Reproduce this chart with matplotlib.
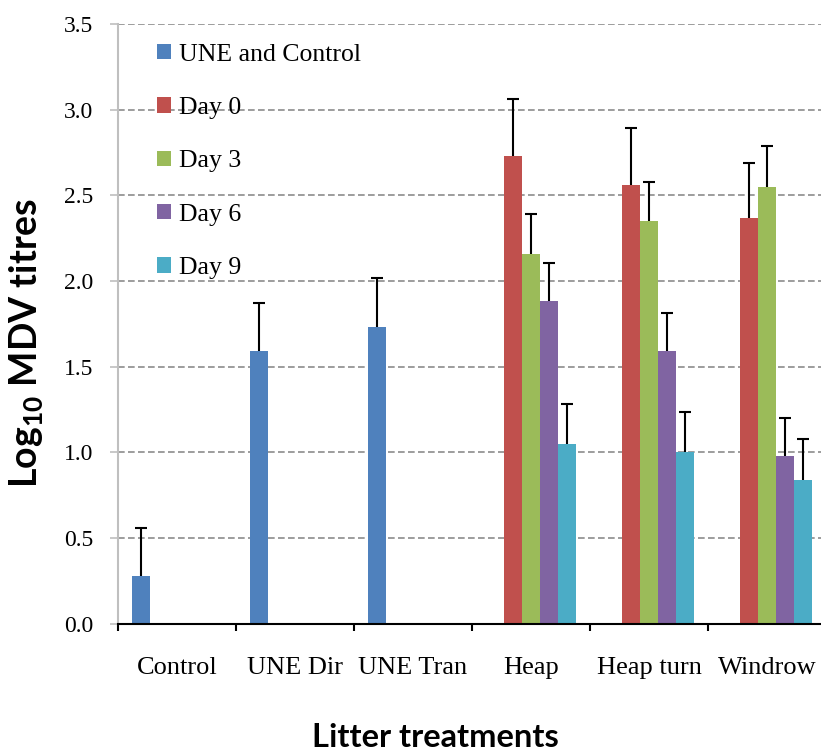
import numpy as np
import matplotlib.pyplot as plt

nan = np.nan

categories = ['Control', 'UNE Dir', 'UNE Tran', 'Heap', 'Heap turn', 'Windrow']
series_names = ['UNE and Control', 'Day 0', 'Day 3', 'Day 6', 'Day 9']
colors = ['#4F81BD', '#C0504D', '#9BBB59', '#8064A2', '#4BACC6']

une_control = [0.28, 1.59, 1.73, nan, nan, nan]
une_control_err = [0.28, 0.28, 0.29, nan, nan, nan]
day0 = [nan, nan, nan, 2.73, 2.56, 2.37]
day0_err = [nan, nan, nan, 0.33, 0.33, 0.32]
day3 = [nan, nan, nan, 2.16, 2.35, 2.55]
day3_err = [nan, nan, nan, 0.23, 0.225, 0.235]
day6 = [nan, nan, nan, 1.88, 1.59, 0.98]
day6_err = [nan, nan, nan, 0.225, 0.225, 0.22]
day9 = [nan, nan, nan, 1.05, 1.00, 0.84]
day9_err = [nan, nan, nan, 0.23, 0.235, 0.235]

values = [une_control, day0, day3, day6, day9]
errors = [une_control_err, day0_err, day3_err, day6_err, day9_err]

plt.rcParams['mathtext.fontset'] = 'custom'
plt.rcParams['mathtext.rm'] = 'Lato'
plt.rcParams['mathtext.bf'] = 'Lato:bold'

fig = plt.figure(figsize=(8.21, 7.55), dpi=100)
ax = fig.add_axes([118 / 821, (755 - 623.5) / 755, 703 / 821, 599.5 / 755])

x = np.arange(len(categories))
w = 1 / 6.5
for i, (vals, errs) in enumerate(zip(values, errors)):
    pos = x + (i - 2) * w
    vals = np.array(vals)
    errs = np.array(errs)
    ax.bar(pos, vals, width=w, color=colors[i], label=series_names[i], zorder=3)
    eb = ax.errorbar(pos, vals, yerr=[np.zeros_like(errs), errs], fmt='none',
                     ecolor='black', elinewidth=1.5, capsize=4, capthick=1.5, zorder=4)
    # only keep the upper cap
    eb[1][0].set_visible(False)

ax.set_xlim(-0.5, 5.5 - 5 / 118)
ax.set_ylim(0, 3.5)
ax.set_yticks(np.arange(0, 3.51, 0.5))
ax.set_yticklabels([f'{v:.1f}' for v in np.arange(0, 3.51, 0.5)],
                   family='Liberation Serif', fontsize=17)
ax.set_xticks(x)
ax.set_xticklabels(categories, family='Liberation Serif', fontsize=19)
ax.set_xticks(np.arange(-0.5, 5.5, 1), minor=True)
ax.tick_params(axis='x', which='major', length=0, pad=24)
ax.tick_params(axis='x', which='minor', length=5, width=1.5, color='black')
ax.tick_params(axis='y', length=6, width=1.2, color='#BFBFBF', pad=12)

for yv in np.arange(0.5, 3.51, 0.5):
    ax.axhline(yv, color='#8C8C8C', lw=1.2, dashes=(4, 2), zorder=1)

ax.spines['top'].set_visible(False)
ax.spines['right'].set_visible(False)
ax.spines['left'].set_color('#BFBFBF')
ax.spines['left'].set_linewidth(1.5)
ax.spines['bottom'].set_color('black')
ax.spines['bottom'].set_linewidth(1.5)
ax.spines['bottom'].set_zorder(5)

ax.legend(loc='upper left', bbox_to_anchor=(0.0555, 0.967), frameon=False,
          prop={'family': 'Liberation Serif', 'size': 18.5},
          handlelength=0.55, handleheight=0.55, handletextpad=0.3,
          labelspacing=1.22, borderpad=0, borderaxespad=0)

fig.text(27 / 821, (755 - 343) / 755, r'Log$_{\mathbf{10}}$ MDV titres', rotation=90,
         ha='center', va='center', family='Lato', fontweight='bold', fontsize=27)
fig.text(435 / 821, 8 / 755, 'Litter treatments', ha='center', va='baseline',
         family='Lato', fontweight='bold', fontsize=23.5)

fig.savefig('out.png', dpi=100)
